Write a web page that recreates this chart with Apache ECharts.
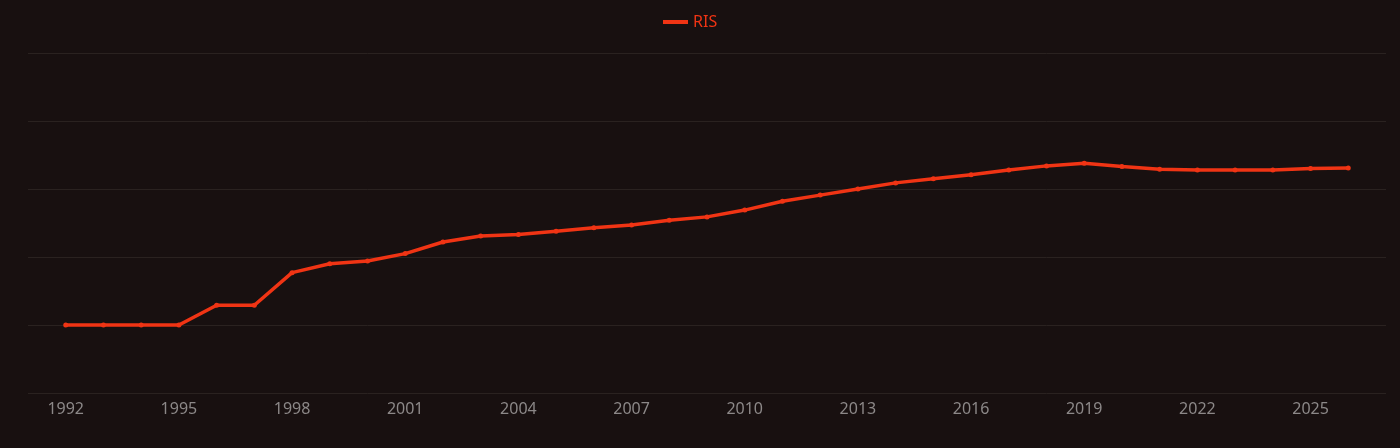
<!DOCTYPE html>
<html>
<head>
<meta charset="utf-8">
<script src="https://cdn.jsdelivr.net/npm/echarts@6/dist/echarts.min.js"></script>
<style>
  html, body { margin: 0; padding: 0; background: #181010; }
  #main { width: 1400px; height: 448px; }
</style>
</head>
<body>
<div id="main"></div>
<script>
// years on the axis, padded by one empty slot each side
var years = [];
for (var y = 1991; y <= 2027; y++) years.push(String(y));

// RIS values, null at padding slots
var risValues = [null,
    1.00, 1.00, 1.00, 1.00, 1.29, 1.29, 1.77, 1.90, 1.94, 2.05,
    2.22, 2.31, 2.33, 2.38, 2.43, 2.47, 2.54, 2.59, 2.69, 2.82,
    2.91, 3.00, 3.09, 3.15, 3.21, 3.28, 3.34, 3.38, 3.33, 3.29,
    3.28, 3.28, 3.28, 3.30, 3.31,
    null];

var chart = echarts.init(document.getElementById('main'));

chart.setOption({
    backgroundColor: '#181010',
    textStyle: { fontFamily: 'Noto Sans' },
    legend: {
        top: 9,
        left: 658,
        icon: 'rect',
        itemWidth: 25,
        itemHeight: 4,
        itemStyle: { color: '#f03414' },
        textStyle: { color: '#f03414', fontSize: 16 },
        data: ['RIS']
    },
    grid: { left: 28, right: 14, top: 53, bottom: 55 },
    xAxis: {
        type: 'category',
        boundaryGap: false,
        data: years,
        axisLine: { show: false },
        axisTick: { show: false },
        axisLabel: {
            color: '#8c8888',
            fontSize: 16,
            margin: 8,
            interval: function (idx, value) {
                return (Number(value) - 1992) % 3 === 0 && value !== '2027';
            }
        }
    },
    yAxis: {
        type: 'value',
        min: 0,
        max: 5,
        interval: 1,
        axisLabel: { show: false },
        axisLine: { show: false },
        axisTick: { show: false },
        splitLine: { lineStyle: { color: '#2a2220', width: 1 } }
    },
    series: [{
        name: 'RIS',
        type: 'line',
        data: risValues,
        symbol: 'circle',
        symbolSize: 5,
        showSymbol: true,
        lineStyle: { color: '#f03414', width: 3.5 },
        itemStyle: { color: '#f03414' }
    }]
});
</script>
</body>
</html>
